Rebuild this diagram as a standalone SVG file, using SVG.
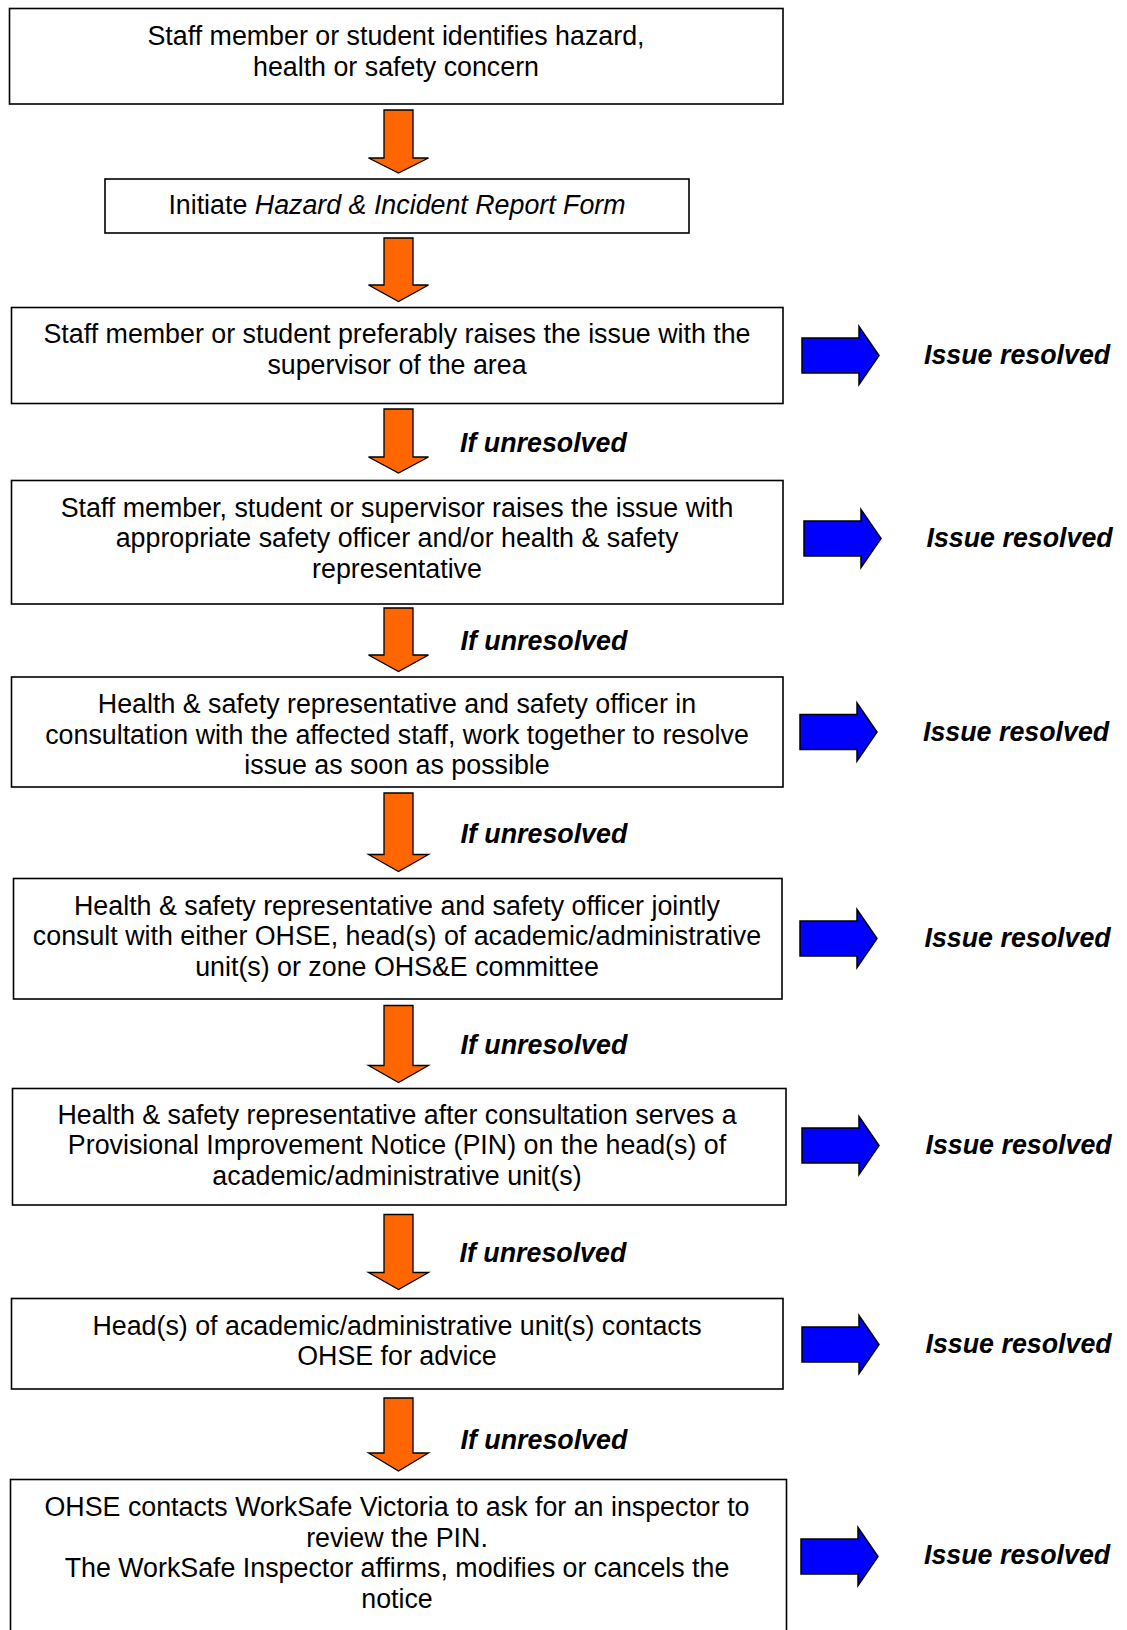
<svg xmlns="http://www.w3.org/2000/svg" width="1127" height="1630" viewBox="0 0 1127 1630">
<style>
.box{fill:#fff;stroke:#000;stroke-width:1.6}
.t{font-family:"Liberation Sans",Arial,sans-serif;font-size:26.8px;fill:#000;text-anchor:middle}
.lb{font-family:"Liberation Sans",Arial,sans-serif;font-size:26.8px;font-weight:bold;font-style:italic;fill:#000}
.oa{fill:#FF6600;stroke:#000;stroke-width:1.3;stroke-linejoin:miter}
.ba{fill:#0000FF;stroke:#000;stroke-width:1.5;stroke-linejoin:miter}
</style>
<defs>
<path id="blue" d="M0,-17.5 H57 V-29 L77,0 L57,29 V17.5 H0 Z"/>
</defs>
<rect width="1127" height="1630" fill="#fff"/>

<g id="connectors">
<path class="oa" d="M384,110 H413 V158 H428.5 L398.5,173 L368.5,158 H384 Z"/>
<path class="oa" d="M384,238 H413 V285 H428.5 L398.5,301.5 L368.5,285 H384 Z"/>
<path class="oa" d="M384,409 H413 V457 H428.5 L398.5,473 L368.5,457 H384 Z"/>
<path class="oa" d="M384,608 H413 V655 H428.5 L398.5,671.5 L368.5,655 H384 Z"/>
<path class="oa" d="M384,793 H413 V854.5 H428.5 L398.5,871.5 L368.5,854.5 H384 Z"/>
<path class="oa" d="M384,1005.5 H413 V1065.5 H428.5 L398.5,1082.5 L368.5,1065.5 H384 Z"/>
<path class="oa" d="M384,1214.5 H413 V1272.5 H428.5 L398.5,1289.5 L368.5,1272.5 H384 Z"/>
<path class="oa" d="M384,1398 H413 V1453 H428.5 L398.5,1471 L368.5,1453 H384 Z"/>
<text class="lb" x="460" y="452">If unresolved</text>
<text class="lb" x="460.5" y="649.5">If unresolved</text>
<text class="lb" x="460.5" y="843">If unresolved</text>
<text class="lb" x="460.5" y="1054">If unresolved</text>
<text class="lb" x="459.5" y="1262">If unresolved</text>
<text class="lb" x="460.5" y="1449">If unresolved</text>

<use class="ba" href="#blue" x="802" y="355.5"/>
<use class="ba" href="#blue" x="804" y="538.5"/>
<use class="ba" href="#blue" x="800" y="732"/>
<use class="ba" href="#blue" x="800" y="938.5"/>
<use class="ba" href="#blue" x="802" y="1145.5"/>
<use class="ba" href="#blue" x="802" y="1344.5"/>
<use class="ba" href="#blue" x="801" y="1556.5"/>
<text class="lb" x="924" y="364">Issue resolved</text>
<text class="lb" x="926.5" y="546.5">Issue resolved</text>
<text class="lb" x="923" y="741">Issue resolved</text>
<text class="lb" x="924.5" y="947">Issue resolved</text>
<text class="lb" x="925.5" y="1154">Issue resolved</text>
<text class="lb" x="925.5" y="1352.5">Issue resolved</text>
<text class="lb" x="924" y="1564">Issue resolved</text>
</g>

<g id="n1">
<rect class="box" x="9.5" y="8.5" width="773.5" height="95.5"/>
<text class="t" x="396" y="44.5">Staff member or student identifies hazard,</text>
<text class="t" x="396" y="76">health or safety concern</text>
</g>

<g id="n2">
<rect class="box" x="105" y="179" width="584" height="54"/>
<text class="t" x="397" y="214">Initiate <tspan font-style="italic">Hazard &amp; Incident Report Form</tspan></text>
</g>

<g id="n3">
<rect class="box" x="11.5" y="307.5" width="771.5" height="96"/>
<text class="t" x="397" y="342.5">Staff member or student preferably raises the issue with the</text>
<text class="t" x="397" y="374">supervisor of the area</text>
</g>

<g id="n4">
<rect class="box" x="11.5" y="480.5" width="771.5" height="123.5"/>
<text class="t" x="397" y="516.5">Staff member, student or supervisor raises the issue with</text>
<text class="t" x="397" y="547">appropriate safety officer and/or health &amp; safety</text>
<text class="t" x="397" y="577.5">representative</text>
</g>

<g id="n5">
<rect class="box" x="11.5" y="677" width="771.5" height="110"/>
<text class="t" x="397" y="713">Health &amp; safety representative and safety officer in</text>
<text class="t" x="397" y="743.5">consultation with the affected staff, work together to resolve</text>
<text class="t" x="397" y="774">issue as soon as possible</text>
</g>

<g id="n6">
<rect class="box" x="13.5" y="878.5" width="768.5" height="120.5"/>
<text class="t" x="397" y="914.5">Health &amp; safety representative and safety officer jointly</text>
<text class="t" x="397" y="945">consult with either OHSE, head(s) of academic/administrative</text>
<text class="t" x="397" y="975.5">unit(s) or zone OHS&amp;E committee</text>
</g>

<g id="n7">
<rect class="box" x="12.5" y="1088.5" width="773.5" height="116.5"/>
<text class="t" x="397" y="1123.5">Health &amp; safety representative after consultation serves a</text>
<text class="t" x="397" y="1154">Provisional Improvement Notice (PIN) on the head(s) of</text>
<text class="t" x="397" y="1184.5">academic/administrative unit(s)</text>
</g>

<g id="n8">
<rect class="box" x="11.5" y="1298.5" width="771.5" height="90.5"/>
<text class="t" x="397" y="1334.5">Head(s) of academic/administrative unit(s) contacts</text>
<text class="t" x="397" y="1365">OHSE for advice</text>
</g>

<g id="n9">
<rect class="box" x="10.5" y="1479.5" width="776" height="170"/>
<text class="t" x="397" y="1516">OHSE contacts WorkSafe Victoria to ask for an inspector to</text>
<text class="t" x="397" y="1546.5">review the PIN.</text>
<text class="t" x="397" y="1577">The WorkSafe Inspector affirms, modifies or cancels the</text>
<text class="t" x="397" y="1607.5">notice</text>
</g>
</svg>
